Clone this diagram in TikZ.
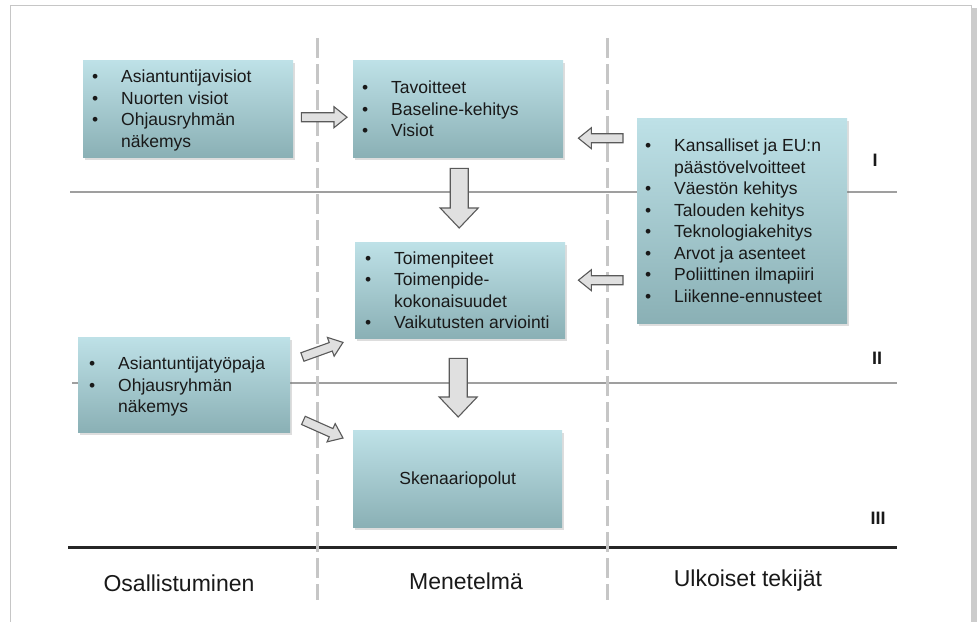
\documentclass[tikz,border=0pt]{standalone}
\usepackage{fontspec}
\setmainfont{Liberation Sans}
\usetikzlibrary{calc,shadows}

\definecolor{boxtop}{RGB}{190,225,231}
\definecolor{boxbot}{RGB}{138,176,181}
\definecolor{arrline}{RGB}{90,90,90}
\definecolor{arrfill}{RGB}{224,224,224}
\definecolor{txt}{RGB}{25,25,25}

% bullet item and continuation line of a list
\newcommand{\itm}[1]{\makebox[29pt][l]{\strut•}#1}
\newcommand{\cnt}[1]{\hspace*{29pt}\strut#1}

% block arrow: (start) (tip) shaft-half-width head-half-width head-length
\newcommand{\blockarrow}[5]{%
  \coordinate (ba-h) at ($#2!#5!#1$);
  \filldraw[blockarr]
    ($#1!#3!90:#2$) -- ($(ba-h)!#3!90:#2$) -- ($(ba-h)!#4!90:#2$) -- #2
    -- ($(ba-h)!#4!-90:#2$) -- ($(ba-h)!#3!-90:#2$) -- ($#1!#3!-90:#2$) -- cycle;
}

\tikzset{
  tbox/.style={anchor=north west, inner sep=0pt, draw=none,
    top color=boxtop, bottom color=boxbot,
    drop shadow={shadow xshift=1.5pt, shadow yshift=-2.5pt, opacity=0.22, fill=black!60}},
  listtext/.style={anchor=west, inner sep=0pt, align=left, text=txt,
    font=\fontsize{17.5}{21.5}\selectfont},
  blockarr/.style={draw=arrline, fill=arrfill, line width=1.1pt, line join=miter},
  rowline/.style={draw=gray!75, line width=1.4pt},
  baseline/.style={draw=black!85, line width=3pt},
  colline/.style={draw=gray!45, line width=3pt, dash pattern=on 20pt off 6pt},
  collabel/.style={inner sep=0pt, text=txt, font=\fontsize{23}{27}\selectfont},
  rowlabel/.style={inner sep=0pt, text=txt, font=\fontsize{18}{21}\selectfont\bfseries}
}

\begin{document}
\begin{tikzpicture}[x=1pt,y=-1pt]
\useasboundingbox (0,0) rectangle (979,621);
\fill[white] (0,0) rectangle (979,621);

% page frame with a shadow at its right edge
\draw[gray!45, line width=1pt] (10,5) rectangle (971,640);
\fill[gray!40] (971,8) rectangle (977,640);

% row separators and the base line
\coordinate (r1a) at (70,192);  \coordinate (r1b) at (897,192);
\coordinate (r2a) at (72,383);  \coordinate (r2b) at (897,383);
\coordinate (r3a) at (68,547);  \coordinate (r3b) at (897,547);
\draw[rowline] (r1a) -- (r1b);
\draw[rowline] (r2a) -- (r2b);
\draw[baseline] (r3a) -- (r3b);

% column separators
\coordinate (c1a) at (317,38);  \coordinate (c1b) at (317,600);
\coordinate (c2a) at (607,38);  \coordinate (c2b) at (607,600);
\draw[colline] (c1a) -- (c1b);
\draw[colline] (c2a) -- (c2b);

% boxes
\node[tbox, minimum width=210pt, minimum height=97pt]  (A) at (83,60)  {};
\node[tbox, minimum width=210pt, minimum height=97pt]  (B) at (353,60) {};
\node[tbox, minimum width=210pt, minimum height=205pt] (C) at (637,118) {};
\node[tbox, minimum width=210pt, minimum height=96pt]  (D) at (355,242) {};
\node[tbox, minimum width=212pt, minimum height=95pt]  (E) at (78,337) {};
\node[tbox, minimum width=209pt, minimum height=97pt]  (F) at (353,430) {};

% box contents
\node[listtext] (At) at ($(A.west)+(9,2)$) {%
  \itm{Asiantuntijavisiot}\\ \itm{Nuorten visiot}\\ \itm{Ohjausryhmän}\\ \cnt{näkemys}};
\node[listtext] (Bt) at ($(B.west)+(9,2)$) {%
  \itm{Tavoitteet}\\ \itm{Baseline-kehitys}\\ \itm{Visiot}};
\node[listtext] (Ct) at ($(C.west)+(8,2)$) {%
  \itm{Kansalliset ja EU:n}\\ \cnt{päästövelvoitteet}\\ \itm{Väestön kehitys}\\
  \itm{Talouden kehitys}\\ \itm{Teknologiakehitys}\\ \itm{Arvot ja asenteet}\\
  \itm{Poliittinen ilmapiiri}\\ \itm{Liikenne-ennusteet}};
\node[listtext] (Dt) at ($(D.west)+(10,2)$) {%
  \itm{Toimenpiteet}\\ \itm{Toimenpide-}\\ \cnt{kokonaisuudet}\\ \itm{Vaikutusten arviointi}};
\node[listtext] (Et) at ($(E.west)+(11,2)$) {%
  \itm{Asiantuntijatyöpaja}\\ \itm{Ohjausryhmän}\\ \cnt{näkemys}};
\node[listtext, anchor=center, align=center] (Ft) at ($(F.center)+(0,1)$) {Skenaariopolut};

% arrows between the boxes
\coordinate (ab1) at ($(A.east)+(8,8.5)$);
\coordinate (ab2) at ($(B.west)+(-6,8.5)$);
\blockarrow{(ab1)}{(ab2)}{4.5pt}{10.5pt}{13pt}

\coordinate (cb1) at ($(C.west)+(-14,-82.5)$);
\coordinate (cb2) at ($(B.east)+(15,29.5)$);
\blockarrow{(cb1)}{(cb2)}{4.5pt}{10.5pt}{13pt}

\coordinate (cd1) at ($(C.west)+(-14,59.5)$);
\coordinate (cd2) at ($(D.east)+(13,-10)$);
\blockarrow{(cd1)}{(cd2)}{4.5pt}{10.5pt}{13pt}

\coordinate (bd1) at ($(B.south)+(1,11)$);
\coordinate (bd2) at ($(D.north)+(-1,-14)$);
\blockarrow{(bd1)}{(bd2)}{9pt}{19pt}{20pt}

\coordinate (df1) at ($(D.south)+(-2,20)$);
\coordinate (df2) at ($(F.north)+(0.5,-13)$);
\blockarrow{(df1)}{(df2)}{9pt}{19pt}{20pt}

\coordinate (ed1) at ($(E.north east)+(12,20)$);
\coordinate (ed2) at ($(D.south west)+(-12,4)$);
\blockarrow{(ed1)}{(ed2)}{4.5pt}{10pt}{13pt}

\coordinate (ef1) at ($(E.south east)+(13,-12)$);
\coordinate (ef2) at ($(F.north west)+(-10,8)$);
\blockarrow{(ef1)}{(ef2)}{4.5pt}{10pt}{13pt}

% row labels
\node[rowlabel] (rI)   at (875,160) {I};
\node[rowlabel] (rII)  at (877,358) {II};
\node[rowlabel] (rIII) at (878,518) {III};

% column labels
\node[collabel] (lO) at (179,583) {Osallistuminen};
\node[collabel] (lM) at (466,581) {Menetelmä};
\node[collabel] (lU) at (748,581) {Ulkoiset tekijät};
\end{tikzpicture}
\end{document}
